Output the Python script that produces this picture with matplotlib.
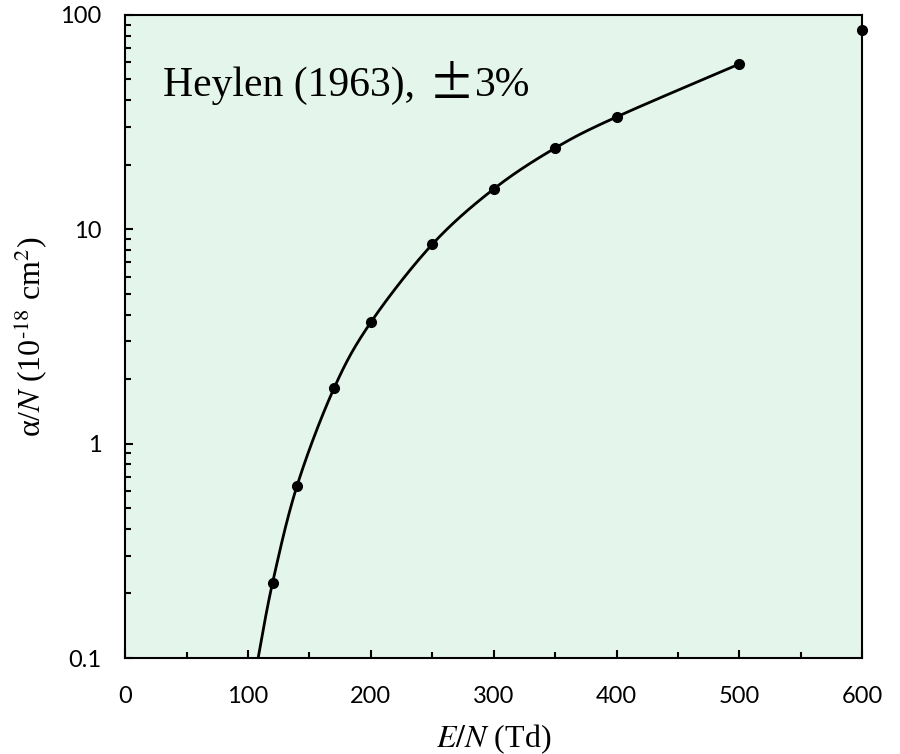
import numpy as np
import matplotlib.pyplot as plt
from matplotlib.ticker import FixedLocator, LogLocator, NullFormatter, MultipleLocator
from matplotlib.transforms import offset_copy

# Heylen (1963) : points mesurés
en_td = [120, 140, 170, 200, 250, 300, 350, 400, 500, 600]
alpha_n = [0.224, 0.637, 1.81, 3.68, 8.5, 15.4, 23.9, 33.4, 59.0, 85.0]

# points de la courbe lissée (début à 0.1)
curve_x = [108.3, 120, 140, 170, 200, 250, 300, 350, 400, 500]
curve_y = [0.1, 0.224, 0.637, 1.81, 3.68, 8.5, 15.4, 23.9, 33.4, 59.0]

y_ticks = [0.1, 1, 10, 100]
y_tick_labels = ['0.1', '1', '10', '100']
x_ticks = [0, 100, 200, 300, 400, 500, 600]


def catmull_rom(xs, ys, n=40):
    # lissage type Excel, en coordonnées (x, log y)
    p = np.column_stack([xs, np.log10(ys)])
    p = np.vstack([p[0], p, p[-1]])
    out = []
    for i in range(1, len(p) - 2):
        p0, p1, p2, p3 = p[i - 1], p[i], p[i + 1], p[i + 2]
        t = np.linspace(0, 1, n)[:, None]
        seg = 0.5 * ((2 * p1) + (-p0 + p2) * t + (2 * p0 - 5 * p1 + 4 * p2 - p3) * t ** 2
                     + (-p0 + 3 * p1 - 3 * p2 + p3) * t ** 3)
        out.append(seg)
    out = np.vstack(out)
    return out[:, 0], 10 ** out[:, 1]


plt.rcParams['mathtext.fontset'] = 'stix'

fig = plt.figure(figsize=(9, 7.54), dpi=100)
ax = fig.add_axes([0.139, 0.1273, 0.819, 0.853])
ax.set_facecolor('#E4F5EC')

sx, sy = catmull_rom(curve_x, curve_y)
ax.plot(sx, sy, color='black', lw=2.0, clip_on=True)
ax.plot(en_td, alpha_n, 'o', color='black', ms=7, clip_on=False, zorder=5)

ax.set_yscale('log')
ax.set_xlim(0, 600)
ax.set_ylim(0.1, 100)

ax.xaxis.set_major_locator(FixedLocator(x_ticks))
ax.xaxis.set_minor_locator(MultipleLocator(50))
ax.yaxis.set_major_locator(FixedLocator(y_ticks))
ax.set_yticklabels(y_tick_labels)
ax.yaxis.set_minor_locator(LogLocator(base=10, subs=np.arange(2, 10)))
ax.yaxis.set_minor_formatter(NullFormatter())

ax.tick_params(which='both', direction='in', top=False, right=False, width=1.5)
ax.tick_params(which='major', length=6)
ax.tick_params(which='minor', length=4)
ax.tick_params(axis='x', which='major', labelsize=17, pad=20)
ax.tick_params(axis='y', which='major', labelsize=17, pad=17)
for lab in ax.get_xticklabels() + ax.get_yticklabels():
    lab.set_fontfamily('Lato')

for s in ax.spines.values():
    s.set_linewidth(1.5)

ax.set_xlabel(r'$E/N$ (Td)', fontsize=23, family='Liberation Serif', labelpad=11)
ax.set_ylabel(r'α/$N$ (10$^{\text{-18}}$ cm$^{2}$)', fontsize=23,
              family='Liberation Serif', labelpad=8)

# texte en trois morceaux, le ± plus large
t1 = ax.text(0.052, 0.89, 'Heylen (1963), ', transform=ax.transAxes,
             fontsize=30, family='Liberation Serif', va='center', ha='left')
fig.canvas.draw()
w1 = t1.get_window_extent().width * 72 / fig.dpi
t2 = ax.text(0.052, 0.89, '\u00b1', fontsize=33, family='Noto Sans CJK JP',
             va='center', ha='left',
             transform=offset_copy(ax.transAxes, fig=fig, x=w1 + 2, y=0, units='points'))
fig.canvas.draw()
w2 = t2.get_window_extent().width * 72 / fig.dpi
ax.text(0.052, 0.89, '3%', fontsize=30, family='Liberation Serif', va='center', ha='left',
        transform=offset_copy(ax.transAxes, fig=fig, x=w1 + w2 + 2, y=0, units='points'))

fig.savefig('out.png', dpi=100)
